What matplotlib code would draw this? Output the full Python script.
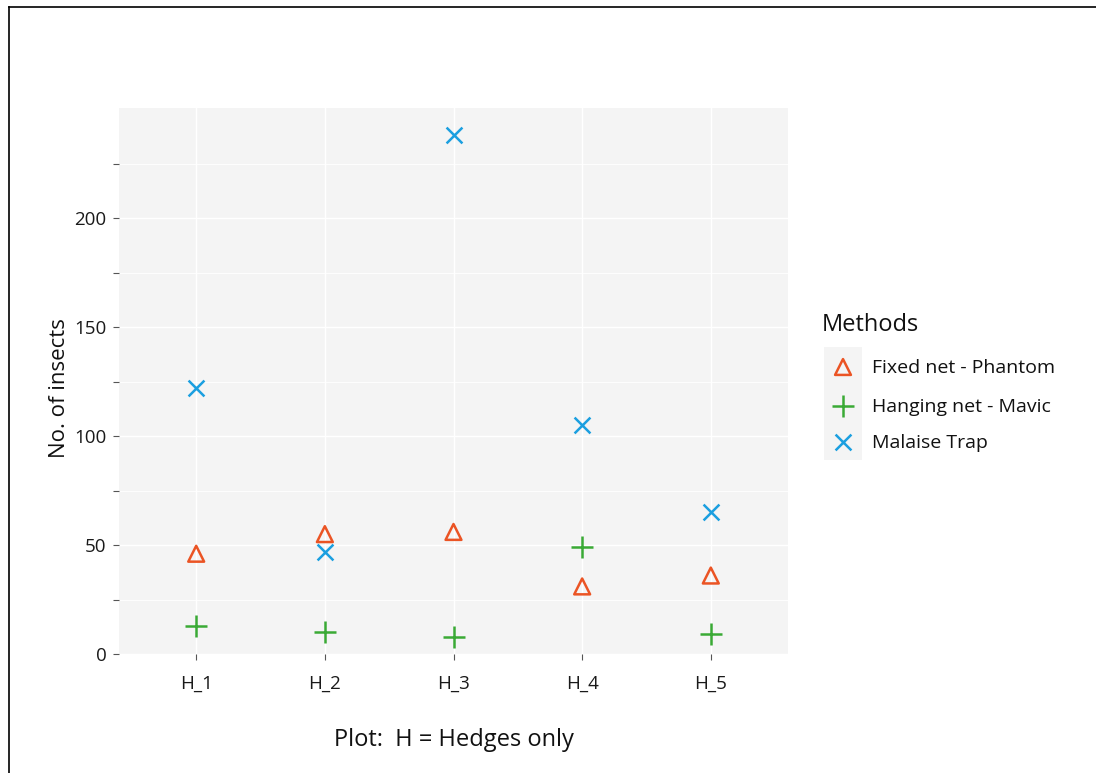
import matplotlib
matplotlib.use("Agg")
import matplotlib.pyplot as plt
from matplotlib.patches import Rectangle
from matplotlib.lines import Line2D

plots = ["H_1", "H_2", "H_3", "H_4", "H_5"]
fixed_net = [46, 55, 56, 31, 36]
hanging_net = [13, 10, 8, 49, 9]
malaise = [122, 47, 238, 105, 65]
series_names = ["Fixed net - Phantom", "Hanging net - Mavic", "Malaise Trap"]
colors = ["#EB5424", "#3AAA35", "#1B9FE0"]
markers = ["^", "+", "x"]

plt.rcParams['font.family'] = ['Open Sans', 'DejaVu Sans']

W, H = 1096, 773
fig = plt.figure(figsize=(W / 100, H / 100), dpi=100)

def fx(px):
    return px / W

def fy(py):
    return 1 - py / H

# panel
px0, px1, py0, py1 = 119, 788, 108, 654
ax = fig.add_axes([fx(px0), fy(py1), fx(px1) - fx(px0), fy(py0) - fy(py1)])
ax.set_facecolor("#F4F4F4")
for s in ax.spines.values():
    s.set_visible(False)

x = list(range(1, len(plots) + 1))
ax.set_xlim(0.4, 5.6)
ax.set_ylim(0, 250.5)
ax.set_yticks([0, 50, 100, 150, 200])
ax.set_yticks([25, 75, 125, 175, 225], minor=True)
ax.set_xticks(x)
ax.set_xticklabels(plots)
ax.grid(True, which="major", color="white", linewidth=1.0)
ax.grid(True, which="minor", axis="y", color="white", linewidth=0.6)
ax.set_axisbelow(True)
ax.tick_params(axis="both", which="both", color="#555555", width=0.8, length=4,
               labelsize=13.5, labelcolor="#1a1a1a", pad=5)
ax.tick_params(axis="x", length=4, pad=11)

data = [fixed_net, hanging_net, malaise]
for vals, c, m, name in zip(data, colors, markers, series_names):
    if m == "^":
        ax.scatter(x, vals, marker=m, s=130, facecolors="none", edgecolors=c, linewidths=1.8, clip_on=False, zorder=3)
    elif m == "+":
        ax.scatter(x, vals, marker=m, s=230, color=c, linewidths=1.8, clip_on=False, zorder=3)
    else:
        ax.scatter(x, vals, marker=m, s=130, color=c, linewidths=1.8, clip_on=False, zorder=3)

ax.set_ylabel("No. of insects", fontsize=16, color="#111111", labelpad=3)
ax.yaxis.label.set_position((0, 0.487))
ax.xaxis.label.set_position((0.493, 0))
ax.set_xlabel("Plot:  H = Hedges only", fontsize=17, color="#111111", labelpad=25)

# legend
fig.text(fx(822), fy(325), "Methods", fontsize=17, color="#111111", va="center", ha="left")
lax = fig.add_axes([fx(824), fy(460), fx(1090) - fx(824), fy(347) - fy(460)])
lax.set_xlim(824, 1090)
lax.set_ylim(460, 347)
lax.axis("off")
lax.add_patch(Rectangle((824, 347), 38, 113, facecolor="#F4F4F4", edgecolor="none"))
key_y = [367, 406, 442]
for yk, c, m, name in zip(key_y, colors, markers, series_names):
    if m == "^":
        lax.scatter([843], [yk], marker=m, s=130, facecolors="none", edgecolors=c, linewidths=1.8)
    elif m == "+":
        lax.scatter([843], [yk], marker=m, s=230, color=c, linewidths=1.8)
    else:
        lax.scatter([843], [yk], marker=m, s=130, color=c, linewidths=1.8)
    lax.text(872, yk + 1, name, fontsize=14, color="#111111", va="center", ha="left")

# outer border (top and left)
fig.add_artist(Line2D([fx(9), fx(9)], [fy(7), 0], color="black", linewidth=1.2))
fig.add_artist(Line2D([fx(9), 1], [fy(7), fy(7)], color="black", linewidth=1.2))

fig.savefig("out.png", dpi=100)
